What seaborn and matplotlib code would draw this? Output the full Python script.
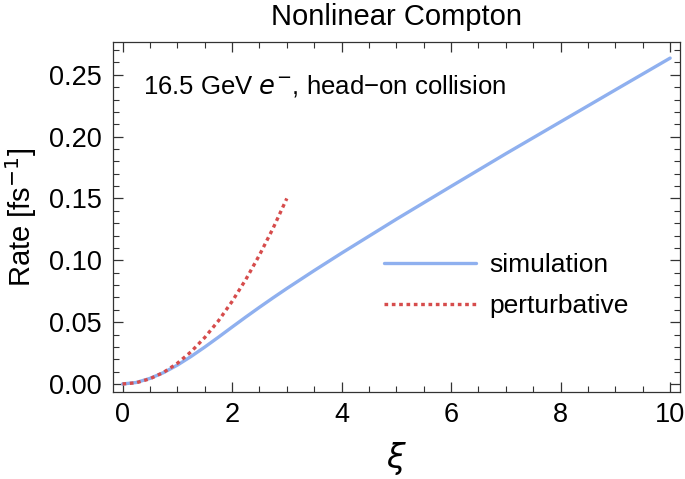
import numpy as np
import pandas as pd
import matplotlib
matplotlib.use("Agg")
import matplotlib.pyplot as plt
import seaborn as sns
from matplotlib.ticker import MultipleLocator, FormatStrFormatter

# --------------------------
# Data
# --------------------------
xi_sim = [0, 0.25, 0.5, 0.75, 1.0, 1.25, 1.5, 1.75, 2.0, 2.25, 2.5, 2.75, 3.0, 3.5,
          4.0, 5.0, 6.0, 7.0, 8.0, 9.0, 10.0]
rate_sim = [0, 0.0012, 0.0045, 0.0092, 0.0152, 0.0222, 0.0298, 0.0378, 0.0460, 0.0541,
            0.0620, 0.0697, 0.0772, 0.0917, 0.1058, 0.1332, 0.1598, 0.1862, 0.2120,
            0.2378, 0.2635]

xi_pert = [0, 0.25, 0.5, 0.75, 1.0, 1.25, 1.5, 1.75, 2.0, 2.25, 2.5, 2.75, 3.0]
rate_pert = [0, 0.0010, 0.0042, 0.0094, 0.0167, 0.0260, 0.0375, 0.0510, 0.0667,
             0.0844, 0.1042, 0.1260, 0.150]

sim = pd.DataFrame({"xi": xi_sim, "rate": rate_sim})
pert = pd.DataFrame({"xi": xi_pert, "rate": rate_pert})

sns.set_theme(style="ticks")
plt.rcParams["font.family"] = ["Liberation Sans", "DejaVu Sans"]
plt.rcParams["text.color"] = "black"
plt.rcParams["axes.labelcolor"] = "black"
plt.rcParams["xtick.color"] = "#333333"
plt.rcParams["ytick.color"] = "#333333"
plt.rcParams["xtick.labelcolor"] = "black"
plt.rcParams["ytick.labelcolor"] = "black"

fig = plt.figure(figsize=(6.85, 4.79), dpi=100)
ax = fig.add_axes([0.1645, 0.1816, 0.8282, 0.7307])

sns.lineplot(data=sim, x="xi", y="rate", color="#8fb0ef", linewidth=2.4,
             label="simulation", ax=ax)
sns.lineplot(data=pert, x="xi", y="rate", color="#d64c4c", linewidth=2.4,
             linestyle=(0, (1.1, 1.1)), label="perturbative", ax=ax)

ax.set_xlim(-0.18, 10.18)
ax.set_ylim(-0.0065, 0.2765)
ax.xaxis.set_major_locator(MultipleLocator(2))
ax.xaxis.set_minor_locator(MultipleLocator(0.5))
ax.yaxis.set_major_locator(MultipleLocator(0.05))
ax.yaxis.set_minor_locator(MultipleLocator(0.01))
ax.yaxis.set_major_formatter(FormatStrFormatter("%.2f"))

ax.tick_params(which="both", direction="in", top=True, right=True)
ax.tick_params(which="major", length=7, width=0.9, labelsize=19.5)
ax.tick_params(axis="x", which="major", pad=7)
ax.tick_params(axis="y", which="major", pad=8)
ax.tick_params(which="minor", length=4, width=0.8)
for s in ax.spines.values():
    s.set_color("#333333")
    s.set_linewidth(0.9)

ax.set_xlabel(r"$\xi$", fontsize=24, labelpad=9)
ax.set_ylabel(r"Rate [fs$^{-1}$]", fontsize=21, labelpad=7)
ax.set_title("Nonlinear Compton", fontsize=21, pad=12)

ax.text(0.053, 0.875, "16.5 GeV $e^{-}$, head\u2212on collision", transform=ax.transAxes,
        fontsize=18.5, va="center", ha="left")

ax.legend(loc="center left", bbox_to_anchor=(0.478, 0.304), frameon=False,
          fontsize=19, handlelength=3.5, handletextpad=0.5, labelspacing=0.65,
          borderpad=0, borderaxespad=0)

fig.savefig("out.png", dpi=100)
